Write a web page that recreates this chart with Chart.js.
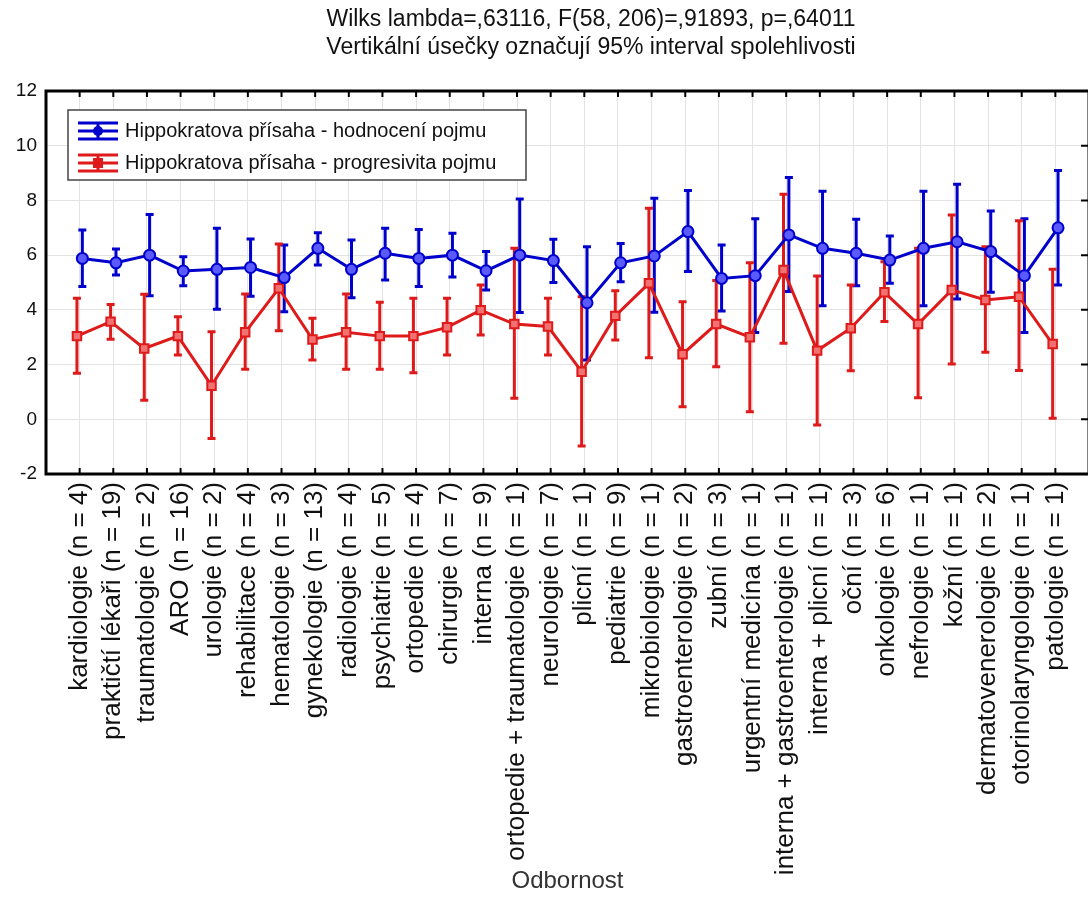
<!DOCTYPE html>
<html>
<head>
<meta charset="utf-8">
<script src="https://cdn.jsdelivr.net/npm/chart.js@4.4.1/dist/chart.umd.min.js"></script>
<style>
  html, body { margin: 0; padding: 0; background: #fff; overflow: hidden; }
  #wrap { width: 1088px; height: 906px; overflow: hidden; }
</style>
</head>
<body>
<div id="wrap"><canvas id="graf" width="1097" height="906"></canvas></div>
<script>
var odbornosti = ['kardiologie (n = 4)', 'praktičtí lékaři (n = 19)', 'traumatologie (n = 2)', 'ARO (n = 16)',
    'urologie (n = 2)', 'rehabilitace (n = 4)', 'hematologie (n = 3)', 'gynekologie (n = 13)', 'radiologie (n = 4)',
    'psychiatrie (n = 5)', 'ortopedie (n = 4)', 'chirurgie (n = 7)', 'interna (n = 9)', 'ortopedie + traumatologie (n = 1)',
    'neurologie (n = 7)', 'plicní (n = 1)', 'pediatrie (n = 9)', 'mikrobiologie (n = 1)', 'gastroenterologie (n = 2)',
    'zubní (n = 3)', 'urgentní medicína (n = 1)', 'interna + gastroenterologie (n = 1)', 'interna + plicní (n = 1)',
    'oční (n = 3)', 'onkologie (n = 6)', 'nefrologie (n = 1)', 'kožní (n = 1)', 'dermatovenerologie (n = 2)',
    'otorinolaryngologie (n = 1)', 'patologie (n = 1)'];

// hodnoceni pojmu - prumer a 95% interval
var hodnoceniPrumer = [5.88, 5.72, 6.0, 5.42, 5.48, 5.55, 5.18, 6.25, 5.48, 6.07, 5.88, 6.0, 5.43, 6.0, 5.8,
    4.26, 5.72, 5.97, 6.86, 5.15, 5.25, 6.74, 6.25, 6.07, 5.82, 6.25, 6.49, 6.13, 5.25, 7.0];
var hodnoceniDolni = [4.85, 5.27, 4.52, 4.88, 4.02, 4.5, 3.93, 5.64, 4.44, 5.09, 4.85, 5.2, 4.73, 3.9, 5.0,
    2.17, 5.03, 3.91, 5.4, 3.96, 3.17, 4.67, 4.15, 4.88, 4.97, 4.15, 4.4, 4.64, 3.17, 4.91];
var hodnoceniHorni = [6.92, 6.22, 7.49, 5.94, 6.98, 6.59, 6.37, 6.82, 6.55, 6.98, 6.94, 6.8, 6.13, 8.05, 6.58,
    6.31, 6.43, 8.08, 8.36, 6.37, 7.33, 8.84, 8.34, 7.31, 6.7, 8.34, 8.59, 7.61, 7.33, 9.09];

// progresivita pojmu - prumer a 95% interval
var progresPrumer = [3.04, 3.57, 2.59, 3.04, 1.23, 3.18, 4.79, 2.92, 3.18, 3.04, 3.04, 3.36, 3.99, 3.48, 3.39,
    1.74, 3.78, 4.97, 2.38, 3.48, 3.0, 5.46, 2.51, 3.33, 4.64, 3.48, 4.73, 4.36, 4.48, 2.75];
var progresDolni = [1.68, 2.93, 0.7, 2.35, -0.7, 1.83, 3.24, 2.17, 1.83, 1.83, 1.7, 2.35, 3.08, 0.77, 2.35,
    -0.98, 2.9, 2.25, 0.46, 1.92, 0.28, 2.78, -0.21, 1.77, 3.57, 0.79, 2.02, 2.45, 1.78, 0.04];
var progresHorni = [4.42, 4.2, 4.57, 3.75, 3.2, 4.58, 6.41, 3.69, 4.58, 4.28, 4.42, 4.42, 4.91, 6.25, 4.42,
    4.48, 4.7, 7.71, 4.3, 5.07, 5.72, 8.23, 5.24, 4.91, 5.76, 6.25, 7.47, 6.31, 7.26, 5.48];

var yMin = -2, yMax = 12, yKrok = 2;
var nadpis = ['Wilks lambda=,63116, F(58, 206)=,91893, p=,64011',
    'Vertikální úsečky označují 95% interval spolehlivosti'];
var popisky = ['Hippokratova přísaha - hodnocení pojmu', 'Hippokratova přísaha - progresivita pojmu'];
var osaX = 'Odbornost';

var modra = '#0000cc';
var cervena = '#de1a1a';
var pismo = "'Liberation Sans', Arial, sans-serif";

function body(prumery, posun) {
    var out = [];
    for (var i in prumery) {
        out.push({ x: Number(i) + 1 + posun, y: prumery[i] });
    }
    return out;
}

// chybove usecky
var usecky = {
    id: 'usecky',
    beforeDatasetsDraw: function(chart) {
        var ctx = chart.ctx;
        var ys = chart.scales.y;
        chart.data.datasets.forEach(function(ds, k) {
            var meta = chart.getDatasetMeta(k);
            ctx.save();
            ctx.strokeStyle = ds.borderColor;
            ctx.lineWidth = 3;
            meta.data.forEach(function(pt, j) {
                var y1 = ys.getPixelForValue(ds.dolni[j]);
                var y2 = ys.getPixelForValue(ds.horni[j]);
                ctx.beginPath();
                ctx.moveTo(pt.x, y1); ctx.lineTo(pt.x, y2);
                ctx.moveTo(pt.x - 4, y1); ctx.lineTo(pt.x + 4, y1);
                ctx.moveTo(pt.x - 4, y2); ctx.lineTo(pt.x + 4, y2);
                ctx.stroke();
            });
            ctx.restore();
        });
    }
};

// ramecek, nadpis a legenda
var ramecek = {
    id: 'ramecek',
    afterDraw: function(chart) {
        var ctx = chart.ctx;
        var a = chart.chartArea;
        var xs = chart.scales.x, ys = chart.scales.y;
        ctx.save();
        ctx.strokeStyle = '#000';
        ctx.lineWidth = 3;
        ctx.strokeRect(a.left, a.top, a.right - a.left, a.bottom - a.top);
        ctx.lineWidth = 2;
        ctx.beginPath();
        for (var i = 1; i <= odbornosti.length; i++) {
            var x = xs.getPixelForValue(i);
            ctx.moveTo(x, a.top); ctx.lineTo(x, a.top + 6);
            ctx.moveTo(x, a.bottom); ctx.lineTo(x, a.bottom - 6);
        }
        for (var v = yMin; v <= yMax; v += yKrok) {
            var y = ys.getPixelForValue(v);
            ctx.moveTo(a.right, y); ctx.lineTo(a.right - 8, y);
        }
        ctx.stroke();

        ctx.fillStyle = '#111';
        ctx.font = '23px ' + pismo;
        ctx.textAlign = 'center';
        ctx.textBaseline = 'middle';
        ctx.fillText(nadpis[0], 591, 20);
        ctx.fillText(nadpis[1], 591, 48);

        // legenda
        ctx.fillStyle = '#fff';
        ctx.fillRect(68, 110, 458, 70);
        ctx.strokeStyle = '#444';
        ctx.lineWidth = 1.5;
        ctx.strokeRect(68, 110, 458, 70);
        var barvy = [modra, cervena];
        var radky = [131, 163];
        for (var r = 0; r < 2; r++) {
            var cy = radky[r], cx = 98;
            ctx.strokeStyle = barvy[r];
            ctx.lineWidth = 3;
            ctx.beginPath();
            ctx.moveTo(cx - 20, cy - 8); ctx.lineTo(cx + 20, cy - 8);
            ctx.moveTo(cx - 20, cy); ctx.lineTo(cx + 20, cy);
            ctx.moveTo(cx - 20, cy + 8); ctx.lineTo(cx + 20, cy + 8);
            ctx.moveTo(cx, cy - 8); ctx.lineTo(cx, cy + 8);
            ctx.stroke();
            ctx.fillStyle = barvy[r];
            if (r === 0) {
                ctx.beginPath(); ctx.arc(cx, cy, 5, 0, Math.PI * 2); ctx.fill();
            } else {
                ctx.fillRect(cx - 5, cy - 5, 10, 10);
            }
            ctx.fillStyle = '#111';
            ctx.font = '20px ' + pismo;
            ctx.textAlign = 'left';
            ctx.fillText(popisky[r], 125, cy);
        }
        ctx.restore();
    }
};

var graf = new Chart(document.getElementById('graf'), {
    type: 'line',
    data: {
        datasets: [{
            label: popisky[0],
            data: body(hodnoceniPrumer, 0.08),
            dolni: hodnoceniDolni,
            horni: hodnoceniHorni,
            borderColor: modra,
            borderWidth: 3,
            pointStyle: 'circle',
            pointRadius: 5.5,
            pointBorderWidth: 2,
            pointBackgroundColor: '#5a5aff',
            pointBorderColor: modra,
            tension: 0
        }, {
            label: popisky[1],
            data: body(progresPrumer, -0.08),
            dolni: progresDolni,
            horni: progresHorni,
            borderColor: cervena,
            borderWidth: 3,
            pointStyle: 'rect',
            pointRadius: 6,
            pointBorderWidth: 2,
            pointBackgroundColor: '#f27272',
            pointBorderColor: cervena,
            tension: 0
        }]
    },
    options: {
        responsive: false,
        animation: false,
        layout: { padding: { top: 91, left: 0, right: 0, bottom: 0 } },
        plugins: { legend: { display: false }, tooltip: { enabled: false } },
        scales: {
            x: {
                type: 'linear',
                min: 0,
                max: odbornosti.length + 1,
                afterFit: function(s) {
                    s.height = 432;
                    s.paddingLeft = 0;
                    s.paddingRight = 0;
                },
                grid: { color: '#e3e3e3', lineWidth: 1, drawTicks: false },
                border: { display: false },
                ticks: {
                    stepSize: 1,
                    autoSkip: false,
                    maxRotation: 90,
                    minRotation: 90,
                    padding: 8,
                    color: '#111',
                    font: { family: pismo, size: 26 },
                    callback: function(v) { return odbornosti[v - 1] || ''; }
                },
                title: {
                    display: true,
                    text: osaX,
                    color: '#333',
                    font: { family: pismo, size: 24 },
                    padding: { top: 0, bottom: 10 }
                }
            },
            y: {
                min: yMin,
                max: yMax,
                afterFit: function(s) { s.width = 46; },
                grid: { color: '#e3e3e3', lineWidth: 1, drawTicks: false },
                border: { display: false },
                ticks: {
                    stepSize: yKrok,
                    padding: 9,
                    color: '#111',
                    font: { family: pismo, size: 19 }
                }
            }
        }
    },
    plugins: [usecky, ramecek]
});
</script>
</body>
</html>
